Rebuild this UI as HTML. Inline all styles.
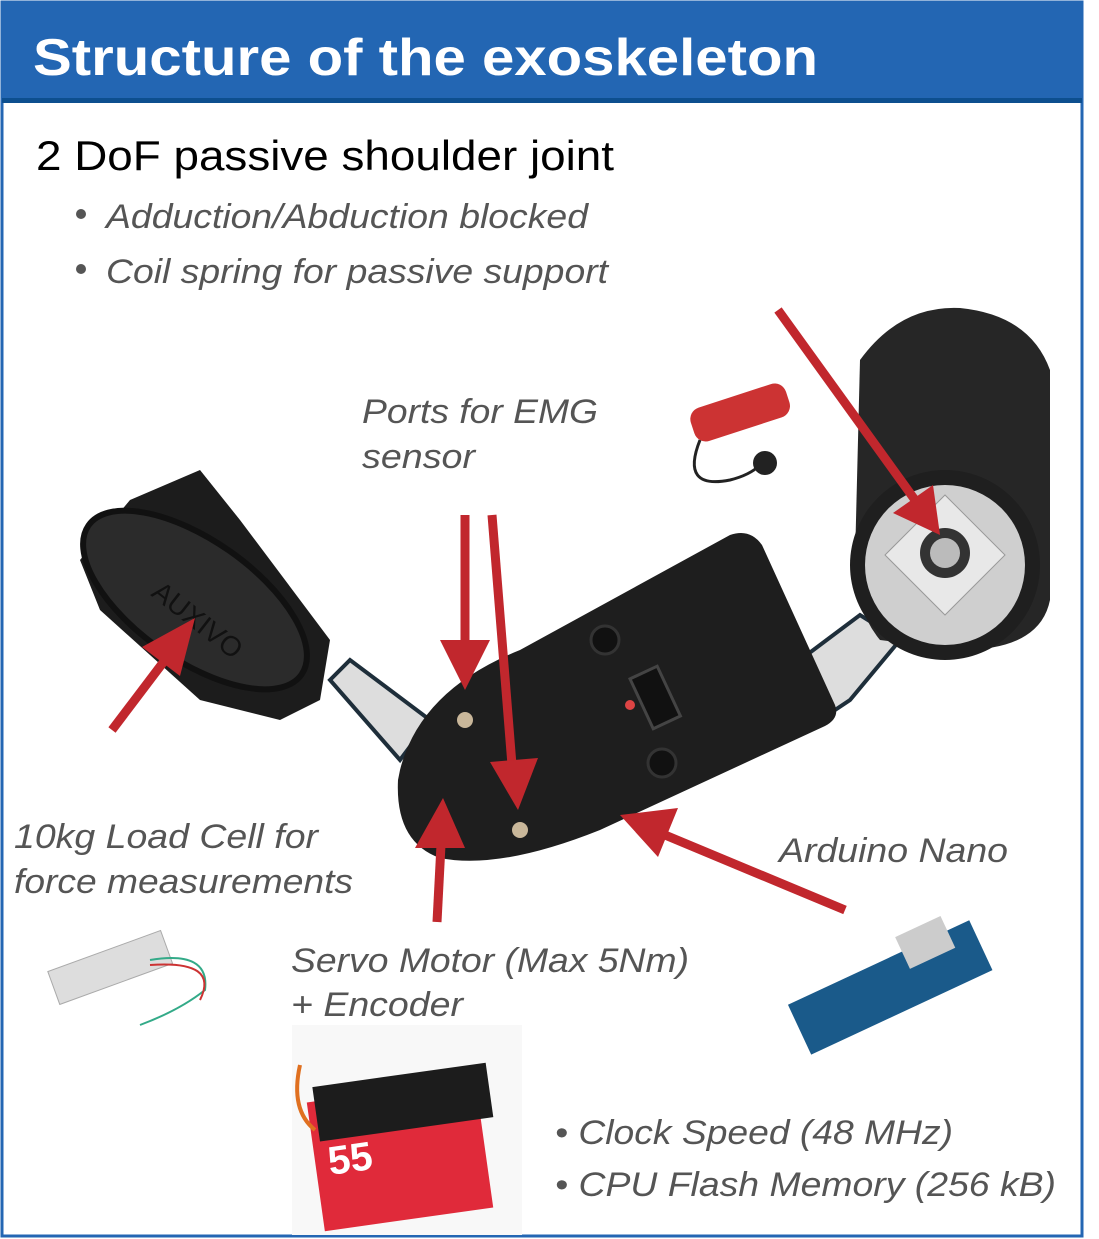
<!DOCTYPE html>
<html><head><meta charset="utf-8"><style>
html,body{margin:0;padding:0;background:#fff;}
svg{display:block;}
</style></head><body>
<svg width="1099" height="1239" viewBox="0 0 1099 1239" xmlns="http://www.w3.org/2000/svg" font-family="Liberation Sans, sans-serif">
<rect x="2" y="2" width="1080" height="1234" fill="#fff" stroke="#2366b3" stroke-width="3"/>
<rect x="2" y="2" width="1080" height="97" fill="#2366b3"/>
<rect x="2" y="98" width="1080" height="5" fill="#0d4f8f"/>
<text x="33" y="75" font-size="52" font-weight="bold" fill="#fff" textLength="785" lengthAdjust="spacingAndGlyphs">Structure of the exoskeleton</text>
<text x="36" y="170" font-size="42" fill="#000" textLength="578" lengthAdjust="spacingAndGlyphs">2 DoF passive shoulder joint</text>
<g fill="#555" font-style="italic" font-size="34">
<circle cx="81" cy="214" r="5" fill="#555"/><circle cx="81" cy="269" r="5" fill="#555"/>
<text x="106" y="228" textLength="482" lengthAdjust="spacingAndGlyphs">Adduction/Abduction blocked</text>
<text x="106" y="283" textLength="502" lengthAdjust="spacingAndGlyphs">Coil spring for passive support</text>
<text x="362" y="423" textLength="236" lengthAdjust="spacingAndGlyphs">Ports for EMG</text>
<text x="362" y="468" textLength="113" lengthAdjust="spacingAndGlyphs">sensor</text>
<text x="14" y="848" textLength="304" lengthAdjust="spacingAndGlyphs">10kg Load Cell for</text>
<text x="14" y="893" textLength="339" lengthAdjust="spacingAndGlyphs">force measurements</text>
<text x="291" y="972" textLength="398" lengthAdjust="spacingAndGlyphs">Servo Motor (Max 5Nm)</text>
<text x="291" y="1016" textLength="172" lengthAdjust="spacingAndGlyphs">+ Encoder</text>
<text x="779" y="862" textLength="229" lengthAdjust="spacingAndGlyphs">Arduino Nano</text>
<text x="555" y="1144" textLength="398" lengthAdjust="spacingAndGlyphs">• Clock Speed (48 MHz)</text>
<text x="555" y="1196" textLength="501" lengthAdjust="spacingAndGlyphs">• CPU Flash Memory (256 kB)</text>
</g>
<!-- metal bars -->
<polygon points="330,680 350,660 430,720 400,760" fill="#ddd" stroke="#1e2e3a" stroke-width="4"/>
<polygon points="800,660 860,615 900,640 850,700 820,720" fill="#ddd" stroke="#1e2e3a" stroke-width="4"/>
<!-- left cuff -->
<path d="M130,500 L200,470 L240,520 L330,640 L320,700 L280,720 L200,700 L100,610 L80,560 Z" fill="#1c1c1c"/>
<ellipse cx="195" cy="600" rx="130" ry="60" transform="rotate(35 195 600)" fill="#2b2b2b" stroke="#111" stroke-width="6"/>
<text x="150" y="595" font-size="28" fill="#111" transform="rotate(38 150 595)">AUXIVO</text>
<!-- right shoulder piece -->
<path d="M860,360 Q900,305 960,308 Q1030,315 1050,370 L1050,600 Q1040,650 960,650 L880,640 Q855,610 855,560 Z" fill="#262626"/>
<circle cx="945" cy="565" r="95" fill="#1f1f1f"/>
<circle cx="945" cy="565" r="80" fill="#cfcfcf"/>
<polygon points="945,495 1005,555 945,615 885,555" fill="#e8e8e8" stroke="#999"/>
<circle cx="945" cy="553" r="25" fill="#333"/><circle cx="945" cy="553" r="15" fill="#bbb"/>
<!-- main body -->
<path d="M400,770 Q420,690 520,650 L730,535 Q750,528 762,545 L835,705 Q840,718 825,726 L600,830 Q500,870 440,858 Q395,842 398,780 Z" fill="#1e1e1e"/>
<circle cx="465" cy="720" r="8" fill="#c9b79a"/><circle cx="520" cy="830" r="8" fill="#c9b79a"/>
<circle cx="605" cy="640" r="14" fill="#111" stroke="#333" stroke-width="3"/>
<circle cx="662" cy="763" r="14" fill="#111" stroke="#333" stroke-width="3"/>
<rect x="640" y="670" width="30" height="55" fill="#111" stroke="#444" stroke-width="3" transform="rotate(-25 655 697)"/>
<circle cx="630" cy="705" r="5" fill="#d44"/>
<!-- EMG sensor -->
<rect x="690" y="395" width="100" height="35" rx="12" fill="#c33" transform="rotate(-18 740 412)"/>
<path d="M700,440 Q680,490 730,480 Q750,475 760,465" fill="none" stroke="#222" stroke-width="3"/>
<circle cx="765" cy="463" r="12" fill="#222"/>
<!-- load cell -->
<rect x="50" y="950" width="120" height="35" fill="#ddd" stroke="#aaa" transform="rotate(-20 110 967)"/>
<path d="M150,960 Q210,950 205,990 Q180,1010 140,1025" fill="none" stroke="#3a8" stroke-width="2"/>
<path d="M150,965 Q220,960 200,1000" fill="none" stroke="#c33" stroke-width="2"/>
<!-- arduino -->
<rect x="790" y="960" width="200" height="55" fill="#1a5a8a" transform="rotate(-25 890 987)"/>
<rect x="900" y="925" width="50" height="35" fill="#ccc" transform="rotate(-25 925 942)"/>
<!-- servo -->
<rect x="292" y="1025" width="230" height="210" fill="#f8f8f8"/>
<rect x="315" y="1090" width="170" height="130" fill="#e02a3a" transform="rotate(-8 400 1155)"/>
<rect x="315" y="1075" width="175" height="55" fill="#1c1c1c" transform="rotate(-8 400 1100)"/>
<text x="330" y="1175" font-size="40" font-weight="bold" fill="#fff" transform="rotate(-8 330 1175)">55</text>
<path d="M300,1065 Q290,1110 315,1130" fill="none" stroke="#e07020" stroke-width="4"/>
<!-- arrows -->
<g stroke="#c1272d" stroke-width="9" fill="none">
<line x1="778" y1="310" x2="915" y2="500"/>
<line x1="465" y1="515" x2="465" y2="645"/>
<line x1="492" y1="515" x2="512" y2="765"/>
<line x1="112" y1="730" x2="165" y2="660"/>
<line x1="437" y1="922" x2="441" y2="845"/>
<line x1="845" y1="910" x2="665" y2="835"/>
</g>
<g fill="#c1272d">
<polygon points="940,535 893,513 933,485"/>
<polygon points="465,690 440,640 490,640"/>
<polygon points="518,810 490,762 538,758"/>
<polygon points="195,618 180,676 142,647"/>
<polygon points="443,798 465,848 415,848"/>
<polygon points="620,815 678,808 658,857"/>
</g>
</svg>
</body></html>
